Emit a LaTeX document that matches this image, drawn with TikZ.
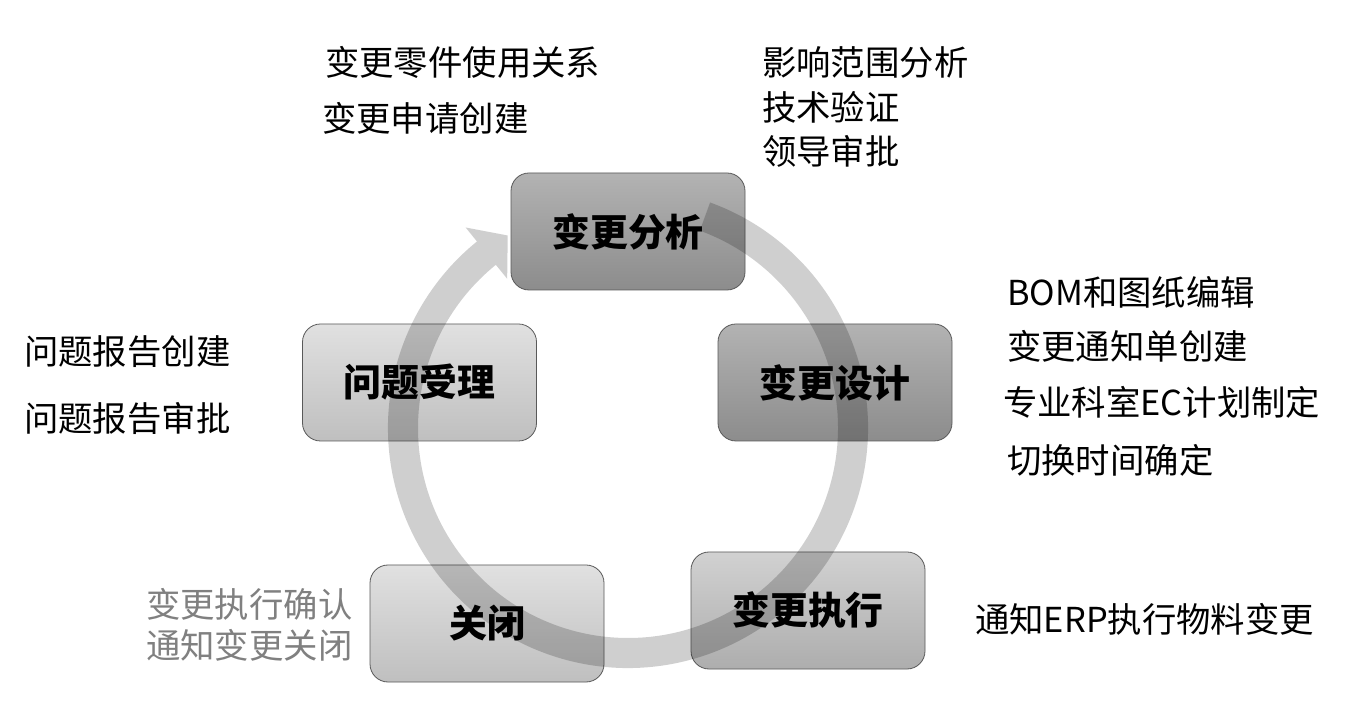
\documentclass[tikz,border=0pt]{standalone}
\usepackage{fontspec}
\setmainfont{Noto Sans CJK SC}
\newfontfamily\cjk{Noto Sans CJK SC}
\usetikzlibrary{calc}
\tikzset{
  stagebox/.style={draw=black!65, line width=0.8bp, rounded corners=18bp,
    minimum width=234bp, minimum height=117bp, inner sep=0pt,
    font=\cjk\bfseries\fontsize{38}{40}\selectfont},
  darkbox/.style={stagebox, top color=black!30, bottom color=black!45},
  midbox/.style={stagebox, top color=black!18, bottom color=black!32},
  lightbox/.style={stagebox, top color=black!12, bottom color=black!25},
  note/.style={anchor=west, inner sep=0pt, font=\cjk\fontsize{34.5}{36}\selectfont},
  graynote/.style={note, text=black!50},
  ring/.style={fill=black, fill opacity=0.19}
}
\begin{document}
\begin{tikzpicture}[x=1bp,y=1bp]
\useasboundingbox (0,0) rectangle (1355,702);
\fill[white] (0,0) rectangle (1355,702);
% stage boxes
\node[darkbox]  (fx) at (628,470.5) {变更分析};
\node[lightbox] (sl) at (419.5,319.5) {问题受理};
\node[darkbox]  (sj) at (835,319.5) {变更设计};
\node[midbox]   (zx) at (808,91.5) {变更执行};
\node[lightbox] (gb) at (487,78.5) {关闭};
% circular arrow
\coordinate (c) at (628,274);
\fill[ring] ($(c)+(70:240)$) arc[start angle=70, end angle=-231, radius=240]
  -- ($(c)+(129:258)$) -- ($(c)+(122:227)$) -- ($(c)+(129:192)$)
  -- ($(c)+(129:210)$) arc[start angle=-231, end angle=70, radius=210] -- cycle;
% notes
\node[note] (n1) at (325,640) {变更零件使用关系};
\node[note] (n2) at (322,584) {变更申请创建};
\node[note] (n3) at (762,640) {影响范围分析};
\node[note] (n4) at (762,595) {技术验证};
\node[note] (n5) at (762,551) {领导审批};
\node[note] (n6) at (1007,410) {BOM和图纸编辑};
\node[note] (n7) at (1007,356) {变更通知单创建};
\node[note] (n8) at (1003,300) {专业科室EC计划制定};
\node[note] (n9) at (1007,242) {切换时间确定};
\node[note] (n10) at (24,350) {问题报告创建};
\node[note] (n11) at (24,284) {问题报告审批};
\node[graynote] (n12) at (146,98) {变更执行确认};
\node[graynote] (n13) at (146,57) {通知变更关闭};
\node[note] (n14) at (975,83) {通知ERP执行物料变更};
\end{tikzpicture}
\end{document}
